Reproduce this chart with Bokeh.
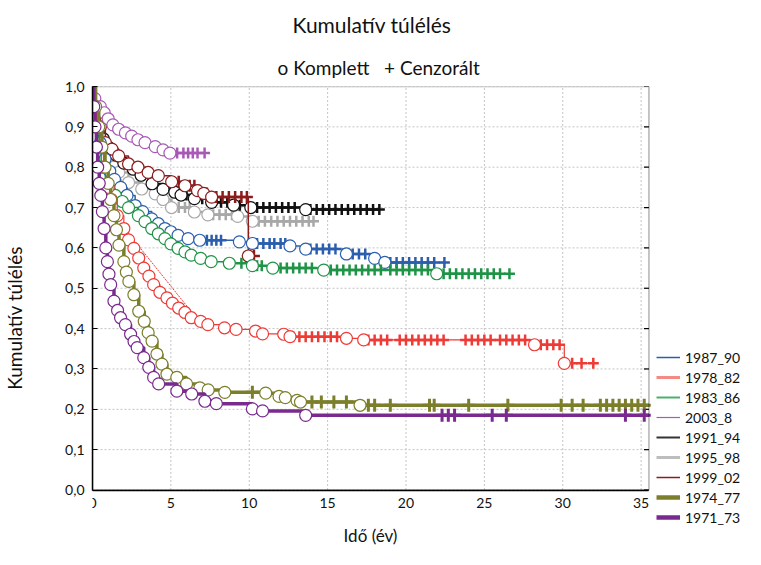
import numpy as np
from bokeh.plotting import figure
from bokeh.models import Legend, LegendItem, Title, FixedTicker, Range1d, CustomJSTickFormatter, BoxAnnotation
from bokeh.embed import file_html
from bokeh.resources import INLINE

FONT = "Lato"

# ---------------- data ----------------
names = ["1987_90", "1978_82", "1983_86", "2003_8", "1991_94", "1995_98", "1999_02", "1974_77", "1971_73"]

# event times (years) and cumulative survival after each event; censor times
t_1987_90 = [0.15, 0.3, 0.5, 0.8, 1.1, 1.4, 1.8, 2.2, 2.72, 3.2, 3.78, 4.2, 4.62, 5.0, 5.46, 6.1, 6.84, 9.37, 10.2, 12.6, 13.6, 16.2, 18.0, 18.65]
s_1987_90 = [0.95, 0.9, 0.86, 0.82, 0.79, 0.77, 0.75, 0.73, 0.705, 0.69, 0.672, 0.66, 0.648, 0.64, 0.631, 0.623, 0.619, 0.615, 0.611, 0.605, 0.597, 0.585, 0.574, 0.564]
c_1987_90 = [7.3, 7.6, 7.9, 8.2, 10.5, 10.9, 11.3, 11.6, 12.0, 12.3, 13.9, 14.3, 14.7, 15.1, 15.5, 16.6, 17.0, 17.4, 19.0, 19.4, 19.8, 20.2, 20.6, 21.0, 21.4, 21.8, 22.45]

t_1978_82 = [0.1, 0.25, 0.45, 0.7, 1.0, 1.2, 1.58, 2.0, 2.3, 2.64, 2.95, 3.27, 3.6, 3.9, 4.3, 4.75, 5.1, 5.5, 5.9, 6.3, 6.9, 7.36, 8.42, 9.16, 10.4, 10.85, 12.2, 12.6, 16.2, 17.3, 28.2, 30.1]
s_1978_82 = [0.95, 0.9, 0.85, 0.8, 0.75, 0.72, 0.68, 0.648, 0.62, 0.599, 0.575, 0.55, 0.53, 0.509, 0.49, 0.476, 0.463, 0.451, 0.44, 0.427, 0.418, 0.41, 0.402, 0.398, 0.394, 0.387, 0.386, 0.38, 0.376, 0.372, 0.36, 0.314]
c_1978_82 = [12.8, 13.2, 13.6, 14.0, 14.4, 14.8, 15.2, 15.6, 17.6, 18.0, 18.4, 18.8, 19.6, 20.0, 20.4, 20.8, 21.2, 21.6, 22.0, 22.4, 23.8, 24.2, 24.6, 25.0, 25.4, 26.0, 26.4, 26.8, 27.2, 27.6, 28.6, 29.0, 29.4, 29.8, 30.15, 30.6, 31.2, 31.95]
diag_t_1978_82 = [2.0, 6.35]
diag_s_1978_82 = [0.65, 0.44]

t_1983_86 = [0.1, 0.2, 0.35, 0.55, 0.82, 1.1, 1.46, 1.9, 2.3, 2.93, 3.35, 3.78, 4.2, 4.62, 5.0, 5.46, 5.9, 6.3, 6.9, 7.57, 8.73, 10.2, 11.5, 14.75, 21.96]
s_1983_86 = [0.95, 0.9, 0.85, 0.8, 0.754, 0.74, 0.73, 0.715, 0.7, 0.68, 0.665, 0.648, 0.635, 0.623, 0.61, 0.599, 0.59, 0.582, 0.574, 0.566, 0.562, 0.556, 0.55, 0.545, 0.536]
c_1983_86 = [9.5, 10.5, 10.8, 12.0, 12.4, 12.8, 13.2, 13.6, 14.0, 15.2, 15.6, 16.0, 16.4, 16.8, 17.2, 17.6, 18.0, 18.4, 19.0, 19.4, 19.8, 20.2, 20.6, 21.0, 21.4, 22.4, 22.8, 23.2, 23.6, 24.0, 24.4, 24.8, 25.2, 25.6, 26.0, 26.6]

t_2003_8 = [0.15, 0.5, 0.75, 1.0, 1.3, 1.67, 2.1, 2.5, 2.9, 3.35, 4.0, 4.5, 4.94]
s_2003_8 = [0.97, 0.95, 0.935, 0.92, 0.905, 0.894, 0.885, 0.877, 0.868, 0.861, 0.851, 0.843, 0.835]
c_2003_8 = [4.0, 4.5, 5.0, 5.4, 5.8, 6.1, 6.4, 6.7, 7.15]

t_1991_94 = [0.15, 0.4, 0.7, 1.0, 1.5, 2.0, 2.6, 3.1, 3.8, 4.5, 5.25, 5.65, 6.5, 7.6, 9.0, 10.1, 13.6]
s_1991_94 = [0.95, 0.9, 0.87, 0.85, 0.83, 0.81, 0.795, 0.78, 0.759, 0.745, 0.738, 0.731, 0.722, 0.713, 0.706, 0.7, 0.695]
c_1991_94 = [6.0, 6.4, 7.0, 7.8, 8.2, 8.6, 9.4, 10.5, 10.9, 11.3, 11.7, 12.1, 12.5, 12.9, 13.9, 14.3, 14.7, 15.1, 15.5, 15.9, 16.3, 16.7, 17.1, 17.5, 17.9, 18.3]

t_1995_98 = [0.15, 0.35, 0.65, 1.0, 1.35, 1.67, 2.3, 3.14, 4.0, 4.5, 5.04, 6.5, 7.36, 9.26, 10.2]
s_1995_98 = [0.95, 0.9, 0.86, 0.83, 0.8, 0.787, 0.762, 0.746, 0.734, 0.72, 0.7, 0.689, 0.682, 0.678, 0.666]
c_1995_98 = [5.5, 5.9, 6.2, 7.7, 8.1, 8.5, 8.9, 10.6, 11.0, 11.4, 11.8, 12.2, 12.6, 13.0, 13.4, 13.8, 14.1]

t_1999_02 = [0.2, 0.5, 0.82, 1.24, 1.67, 2.3, 2.9, 3.55, 4.2, 5.05, 5.9, 6.7, 7.1, 7.6, 9.94]
s_1999_02 = [0.95, 0.9, 0.861, 0.845, 0.828, 0.808, 0.8, 0.787, 0.779, 0.764, 0.754, 0.742, 0.735, 0.726, 0.58]
c_1999_02 = [5.5, 5.9, 6.2, 6.5, 7.3, 7.9, 8.3, 8.7, 9.1, 9.5, 9.85, 10.3]

t_1974_77 = [0.2, 0.4, 0.6, 0.8, 1.0, 1.16, 1.37, 1.53, 1.69, 2.0, 2.16, 2.32, 2.64, 2.95, 3.3, 3.55, 3.8, 4.11, 4.43, 4.75, 5.38, 6.0, 6.85, 7.38, 8.44, 11.05, 11.9, 12.3, 13.05, 13.27, 17.07]
s_1974_77 = [0.95, 0.9, 0.85, 0.8, 0.76, 0.72, 0.68, 0.645, 0.607, 0.566, 0.54, 0.517, 0.484, 0.443, 0.418, 0.39, 0.369, 0.337, 0.312, 0.287, 0.279, 0.263, 0.253, 0.248, 0.242, 0.24, 0.232, 0.229, 0.222, 0.218, 0.21]
c_1974_77 = [10.2, 14.0, 14.6, 15.4, 16.2, 17.6, 18.0, 19.0, 21.5, 21.8, 24.0, 26.5, 29.9, 30.6, 31.3, 32.4, 32.8, 33.2, 33.6, 34.0, 34.4, 34.8, 35.2]

t_1971_73 = [0.08, 0.16, 0.25, 0.33, 0.43, 0.53, 0.63, 0.74, 0.85, 0.95, 1.05, 1.16, 1.37, 1.6, 1.79, 2.1, 2.43, 2.65, 2.85, 3.27, 3.59, 3.9, 4.22, 5.38, 6.33, 7.17, 7.9, 10.2, 10.85, 13.6]
s_1971_73 = [0.95, 0.9, 0.85, 0.8, 0.76, 0.73, 0.69, 0.648, 0.6, 0.566, 0.535, 0.509, 0.468, 0.445, 0.427, 0.41, 0.386, 0.368, 0.353, 0.328, 0.304, 0.279, 0.263, 0.245, 0.238, 0.22, 0.214, 0.201, 0.196, 0.185]
c_1971_73 = [22.3, 22.7, 23.1, 25.5, 26.4, 34.0, 35.2]

x_ticks = [0, 5, 10, 15, 20, 25, 30, 35]
y_ticks = [0.0, 0.1, 0.2, 0.3, 0.4, 0.5, 0.6, 0.7, 0.8, 0.9, 1.0]

# ---------------- style / layout ----------------
X_MAX = 35.5          # right end of the time axis
W, H = 745, 549
BL, BT = 89, 82       # left / top borders
BOX_W, BOX_H = 559, 407   # size of the drawn plot box in pixels
X_RIGHT = X_MAX * (W - BL) / BOX_W          # frame continues right to hold the legend
Y_BOTTOM = -((H - BT) - BOX_H) / BOX_H      # frame continues below to hold the x labels

style = {
    "1987_90": dict(color="#2b5fad", lw=1.5, leg_color="#2b5fad", leg_lw=1.5, cs=11, clw=2.5),
    "1978_82": dict(color="#ee3b36", lw=1.2, leg_color="#f58a82", leg_lw=3, cs=11, clw=2.5),
    "1983_86": dict(color="#1f9346", lw=1.5, leg_color="#4cae6c", leg_lw=2, cs=11, clw=2.5),
    "2003_8": dict(color="#a759b5", lw=1.2, leg_color="#a759b5", leg_lw=1.2, cs=11, clw=2.5),
    "1991_94": dict(color="#111111", lw=2.0, leg_color="#333333", leg_lw=2, cs=11, clw=2.5),
    "1995_98": dict(color="#a8a8a8", lw=2.5, leg_color="#bdbdbd", leg_lw=3, cs=11, clw=2.5),
    "1999_02": dict(color="#8c1b1b", lw=1.5, leg_color="#8c1b1b", leg_lw=1.5, cs=12, clw=2.5),
    "1974_77": dict(color="#7b7f2b", lw=3.5, leg_color="#7b7f2b", leg_lw=4.5, cs=13, clw=3),
    "1971_73": dict(color="#7a2a8f", lw=3.5, leg_color="#7a2a8f", leg_lw=4.5, cs=13, clw=3),
}
open_end = {"1974_77", "1971_73"}   # curves that run on to the right edge

data = {
    "1987_90": (t_1987_90, s_1987_90, c_1987_90),
    "1978_82": (t_1978_82, s_1978_82, c_1978_82),
    "1983_86": (t_1983_86, s_1983_86, c_1983_86),
    "2003_8": (t_2003_8, s_2003_8, c_2003_8),
    "1991_94": (t_1991_94, s_1991_94, c_1991_94),
    "1995_98": (t_1995_98, s_1995_98, c_1995_98),
    "1999_02": (t_1999_02, s_1999_02, c_1999_02),
    "1974_77": (t_1974_77, s_1974_77, c_1974_77),
    "1971_73": (t_1971_73, s_1971_73, c_1971_73),
}

p = figure(width=W, height=H, output_backend="svg", toolbar_location=None,
           x_range=Range1d(0, X_RIGHT), y_range=Range1d(Y_BOTTOM, 1.0),
           min_border_left=BL, min_border_right=0, min_border_top=BT, min_border_bottom=0,
           background_fill_color="white", border_fill_color="white")
p.outline_line_color = None
p.xgrid.visible = False
p.ygrid.visible = False

# y axis (Bokeh axis, limited to the plot box)
ya = p.yaxis[0]
ya.ticker = FixedTicker(ticks=y_ticks)
ya.bounds = (0, 1)
ya.formatter = CustomJSTickFormatter(code="return tick.toFixed(1).replace('.', ',');")
ya.major_tick_in = 5
ya.major_label_standoff = 8
ya.axis_label = "Kumulatív túlélés"
ya.axis_label_text_font_size = "19px"
ya.axis_label_standoff = 36

# x axis drawn at y = 0, inside the extended frame
xa = p.xaxis[0]
xa.fixed_location = 0
xa.ticker = FixedTicker(ticks=x_ticks)
xa.bounds = (0, X_MAX)
xa.major_tick_in = 0
xa.major_label_standoff = 8
xa.axis_label = "Idő (év)"
xa.axis_label_text_font_size = "17px"
xa.axis_label_standoff = 13

for ax in (xa, ya):
    ax.axis_line_color = "black"
    ax.axis_line_width = 1.5
    ax.major_tick_out = 0
    ax.minor_tick_line_color = None
    ax.major_label_text_font = FONT
    ax.major_label_text_font_size = "14px"
    ax.major_label_text_color = "#111111"
    ax.axis_label_text_font = FONT
    ax.axis_label_text_font_style = "normal"
    ax.axis_label_text_color = "#111111"

# dotted grid inside the plot box
p.segment(x0=x_ticks, y0=0, x1=x_ticks, y1=1, line_color="#c4c4c4", line_dash="2 2", line_width=1)
p.segment(x0=0, y0=y_ticks, x1=X_MAX, y1=y_ticks, line_color="#c4c4c4", line_dash="2 2", line_width=1)
# inward ticks on the right edge
p.ray(x=X_MAX, y=y_ticks, length=5, length_units="screen", angle=np.pi, line_color="black", line_width=1.2)

# diagonal artefact of the 1978_82 curve
p.line(diag_t_1978_82, diag_s_1978_82, line_color=style["1978_82"]["color"], line_width=1, line_dash="2 1")

draw_order = ["1995_98", "1991_94", "1999_02", "2003_8", "1987_90", "1983_86", "1978_82", "1974_77", "1971_73"]
for nm in draw_order:
    t, s, c = data[nm]
    st = style[nm]
    end = X_MAX if nm in open_end else max(c)
    xs = [0.0] + list(t) + [end]
    ys = [1.0] + list(s) + [s[-1]]
    p.step(xs, ys, mode="after", line_color=st["color"], line_width=st["lw"])
    tt = np.array(t)
    ss = np.array(s)
    idx = np.searchsorted(tt, np.array(c), side="right") - 1
    cs = np.where(idx >= 0, ss[np.clip(idx, 0, None)], 1.0)
    p.scatter(c, cs, marker="cross", size=st["cs"], line_color=st["color"], line_width=st["clw"])
    p.scatter(t, s, marker="circle", size=12, fill_color="white", line_color=st["color"], line_width=1.2)

# plot box
p.add_layout(BoxAnnotation(left=0, right=X_MAX, bottom=0, top=1, fill_alpha=0,
                           line_color="black", line_width=1.5))

# legend-only renderers (no visible data)
items = []
for nm in names:
    st = style[nm]
    r = p.line(x=np.array([np.nan]), y=np.array([np.nan]), line_color=st["leg_color"], line_width=st["leg_lw"])
    items.append(LegendItem(label=nm, renderers=[r]))

legend = Legend(items=items, location=(564, 22), background_fill_alpha=0, border_line_alpha=0,
                label_text_font=FONT, label_text_font_size="14px", label_text_color="#111111",
                glyph_width=24, glyph_height=20, label_height=20, spacing=0, padding=0, margin=0,
                label_standoff=5)
p.add_layout(legend)

p.add_layout(Title(text="o Komplett\u00a0\u00a0\u00a0+ Cenzorált", align="left", offset=185, text_font=FONT,
                   standoff=16, text_font_size="19px", text_font_style="normal", text_color="#111111"), "above")
p.add_layout(Title(text="Kumulatív túlélés", align="left", offset=200, text_font=FONT, standoff=18,
                   text_font_size="21px", text_font_style="normal", text_color="#111111"), "above")

open("out.html", "w").write(file_html(p, INLINE))
